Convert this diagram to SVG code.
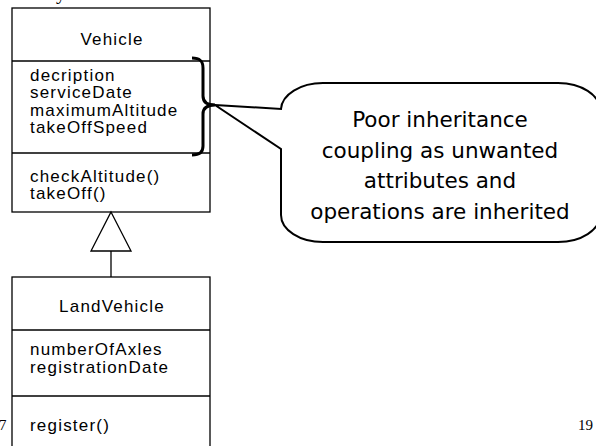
<svg xmlns="http://www.w3.org/2000/svg" width="596" height="446" viewBox="0 0 596 446">
<style>
.box{fill:#fff;stroke:#000;stroke-width:1.3}
.ln{fill:none;stroke:#000;stroke-width:1.3}
.t{font-family:"Liberation Sans",Arial,sans-serif;font-size:17px;letter-spacing:1.2px;fill:#000}
.c{text-anchor:middle}
.call{font-family:"DejaVu Sans",Tahoma,Verdana,sans-serif;font-size:21.5px;fill:#000;text-anchor:middle}
.pg{font-family:"Liberation Serif","Times New Roman",serif;font-size:15px;fill:#000}
</style>
<rect width="596" height="446" fill="#fff"/>
<text class="pg" x="56" y="-1" style="font-size:20px">y</text>
<g id="vehicle">
<rect class="box" x="12" y="8" width="198" height="204"/>
<line class="ln" x1="12" y1="61" x2="210" y2="61"/>
<line class="ln" x1="12" y1="153" x2="210" y2="153"/>
<text class="t c" x="112" y="44.5">Vehicle</text>
<text class="t" x="30" y="80.5">decription</text>
<text class="t" x="30" y="98">serviceDate</text>
<text class="t" x="30" y="115.5">maximumAltitude</text>
<text class="t" x="30" y="133">takeOffSpeed</text>
<text class="t" x="30" y="181.5">checkAltitude()</text>
<text class="t" x="30" y="199">takeOff()</text>
</g>
<g id="landVehicle">
<rect class="box" x="12" y="277" width="198" height="180"/>
<line class="ln" x1="12" y1="330" x2="210" y2="330"/>
<line class="ln" x1="12" y1="396" x2="210" y2="396"/>
<text class="t c" x="112" y="311.5">LandVehicle</text>
<text class="t" x="30" y="354.5">numberOfAxles</text>
<text class="t" x="30" y="372.5">registrationDate</text>
<text class="t" x="30" y="430.5">register()</text>
</g>
<g id="connectors">
<line class="ln" x1="111" y1="251" x2="111" y2="277"/>
<polygon class="box" points="111,212 131,251 91,251"/>
</g>
<g id="brace">
<path d="M192,58 C200,58 203,61 203,68 L203,96 C203,102 207,105 215,105 C207,105 203,108 203,114 L203,146 C203,152 200,155 192,155" fill="none" stroke="#000" stroke-width="3"/>
</g>
<g id="callout">
<path d="M215,105 L281,109 A42 27 0 0 1 323,83 L558,83 A42 27 0 0 1 600,110 L600,215 A42 27 0 0 1 558,242 L323,242 A42 27 0 0 1 281,215 L281,149 Z" fill="#fff" stroke="#000" stroke-width="2" stroke-linejoin="miter"/>
<text class="call" x="440" y="127">Poor inheritance</text>
<text class="call" x="440" y="158">coupling as unwanted</text>
<text class="call" x="440" y="188">attributes and</text>
<text class="call" x="440" y="219">operations are inherited</text>
</g>
<text class="pg" x="-1" y="430">7</text>
<text class="pg" x="578" y="430">19</text>
</svg>
